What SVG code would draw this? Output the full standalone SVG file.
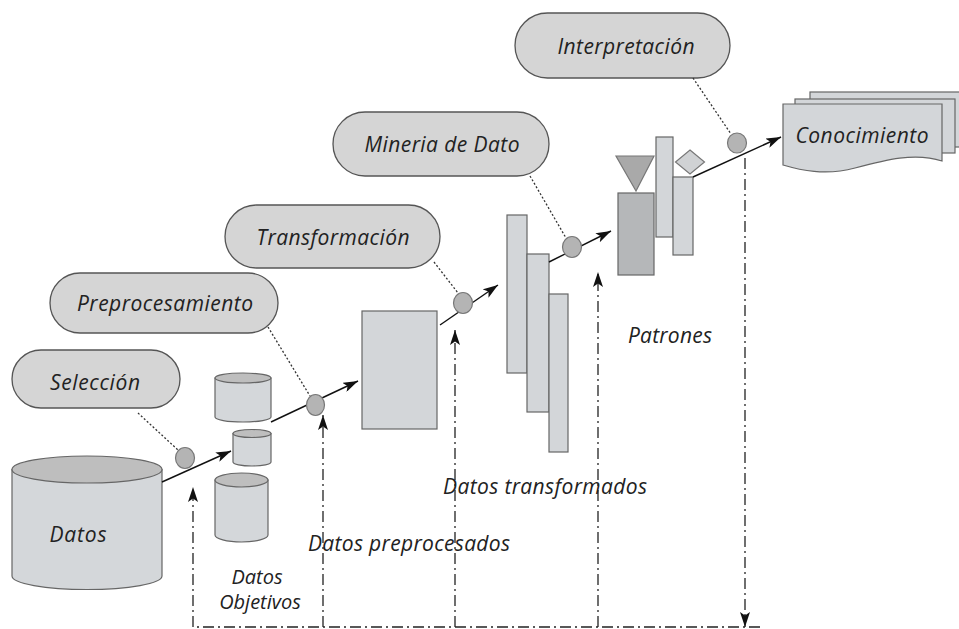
<svg xmlns="http://www.w3.org/2000/svg" width="959" height="629" viewBox="0 0 959 629">
  <defs>
    <style>
      .pill { fill: #d5d5d5; stroke: #555; stroke-width: 1.3; }
      .body { fill: #d4d7da; stroke: #666; stroke-width: 1.2; }
      .cap { fill: #bebebe; stroke: #666; stroke-width: 1.2; }
      .box { fill: #d3d6d9; stroke: #666; stroke-width: 1.2; }
      .dark { fill: #b5b7b9; stroke: #666; stroke-width: 1.2; }
      .ball { fill: #b4b4b4; stroke: #777; stroke-width: 1.2; }
      .lbl { font-family: "Open Sans", "Liberation Sans", sans-serif; font-style: italic; font-size: 21px; fill: #222; }
      .small { font-size: 20px; }
      .flow { stroke: #111; stroke-width: 1.4; fill: none; marker-end: url(#head); }
      .dot { stroke: #333; stroke-width: 1.3; stroke-dasharray: 2 2; fill: none; }
      .dd { stroke: #222; stroke-width: 1.3; stroke-dasharray: 11 4 2 4; fill: none; }
      .ddarrow { marker-end: url(#head); }
    </style>
    <marker id="head" viewBox="0 0 15 10" refX="15" refY="5" markerWidth="15" markerHeight="10" markerUnits="userSpaceOnUse" orient="auto">
      <path d="M0,0 L15,5 L0,10 L3.5,5 Z" fill="#111"/>
    </marker>
  </defs>

  <rect width="959" height="629" fill="#ffffff"/>

  <!-- process steps -->
  <g id="seleccion">
    <rect class="pill" x="12" y="350" width="168" height="58" rx="29"/>
    <text class="lbl" x="95" y="390" text-anchor="middle" textLength="90" lengthAdjust="spacing">Selección</text>
  </g>
  <g id="preprocesamiento">
    <rect class="pill" x="50" y="273" width="228" height="60" rx="30"/>
    <text class="lbl" x="165" y="311" text-anchor="middle" textLength="176" lengthAdjust="spacing">Preprocesamiento</text>
  </g>
  <g id="transformacion">
    <rect class="pill" x="225" y="205" width="215" height="63" rx="31.5"/>
    <text class="lbl" x="333" y="245" text-anchor="middle" textLength="153" lengthAdjust="spacing">Transformación</text>
  </g>
  <g id="mineria">
    <rect class="pill" x="333" y="112" width="216" height="64" rx="32"/>
    <text class="lbl" x="442" y="152" text-anchor="middle" textLength="155" lengthAdjust="spacing">Mineria de Dato</text>
  </g>
  <g id="interpretacion">
    <rect class="pill" x="515" y="13" width="215" height="65" rx="32.5"/>
    <text class="lbl" x="626" y="54" text-anchor="middle" textLength="137" lengthAdjust="spacing">Interpretación</text>
  </g>

  <!-- data stages -->
  <g id="datos">
    <path class="body" d="M12,469.5 V576 A75,13.5 0 0 0 162,576 V469.5 Z"/>
    <ellipse class="cap" cx="87" cy="469.5" rx="75" ry="13.5"/>
    <text class="lbl" x="78" y="542" text-anchor="middle" textLength="57" lengthAdjust="spacing">Datos</text>
  </g>

  <g id="datos-objetivos">
    <path class="body" d="M215,378 V417 A28,5 0 0 0 271,417 V378 Z"/>
    <ellipse class="cap" cx="243" cy="378" rx="28" ry="5"/>
    <path class="body" d="M233,433.5 V462 A19,4 0 0 0 271,462 V433.5 Z"/>
    <ellipse class="cap" cx="252" cy="433.5" rx="19" ry="4"/>
    <path class="body" d="M215,480 V535 A26.5,7 0 0 0 268,535 V480 Z"/>
    <ellipse class="cap" cx="241.5" cy="480" rx="26.5" ry="7"/>
    <text class="lbl small" text-anchor="middle"><tspan x="257" y="584">Datos</tspan><tspan x="260" y="609">Objetivos</tspan></text>
  </g>

  <g id="datos-preprocesados">
    <rect class="box" x="362" y="311" width="75" height="118"/>
    <text class="lbl" x="409" y="551" text-anchor="middle" textLength="202" lengthAdjust="spacing">Datos preprocesados</text>
  </g>

  <g id="datos-transformados">
    <rect class="box" x="507" y="215" width="20" height="158"/>
    <rect class="box" x="527" y="254" width="22" height="158"/>
    <rect class="box" x="549" y="294" width="19" height="158"/>
    <text class="lbl" x="545" y="494" text-anchor="middle" textLength="204" lengthAdjust="spacing">Datos transformados</text>
  </g>

  <g id="patrones">
    <polygon points="616,156 654,156 636,191" fill="#a9a9a9" stroke="#777" stroke-width="1.2"/>
    <rect class="dark" x="618" y="193" width="36" height="82"/>
    <rect class="box" x="656" y="137" width="17" height="100"/>
    <rect class="box" x="673" y="177" width="20" height="78"/>
    <polygon points="690,150 704.5,162 690,174 675.5,162" fill="#d0d2d4" stroke="#777" stroke-width="1.2"/>
    <text class="lbl" x="670" y="343" text-anchor="middle" textLength="84" lengthAdjust="spacing">Patrones</text>
  </g>

  <g id="conocimiento">
    <rect class="box" x="810" y="92" width="165" height="55"/>
    <rect class="box" x="795" y="99" width="160" height="54"/>
    <path class="box" d="M783,104 H942 V161 C915,152 885,160 855,168 C825,176 800,170 783,165 Z"/>
    <text class="lbl" x="862" y="143" text-anchor="middle" textLength="133" lengthAdjust="spacing">Conocimiento</text>
  </g>

  <!-- connectors -->
  <g id="connectors">
    <!-- step links -->
    <line class="dot" x1="138" y1="413" x2="178" y2="450"/>
    <line class="dot" x1="268" y1="327" x2="310" y2="396"/>
    <line class="dot" x1="434" y1="262" x2="458" y2="293"/>
    <line class="dot" x1="530" y1="176" x2="566" y2="238"/>
    <line class="dot" x1="693" y1="78" x2="731" y2="134"/>

    <!-- data flow -->
    <line class="flow" x1="162" y1="482" x2="231" y2="451"/>
    <line class="flow" x1="271" y1="422" x2="358" y2="381"/>
    <line class="flow" x1="440" y1="325" x2="498" y2="285"/>
    <line class="flow" x1="549" y1="262" x2="611" y2="231"/>
    <line class="flow" x1="693" y1="177" x2="781" y2="137"/>

    <!-- step markers -->
    <ellipse class="ball" cx="185" cy="458" rx="9.5" ry="10.5"/>
    <ellipse class="ball" cx="315.5" cy="405" rx="9" ry="10.5"/>
    <ellipse class="ball" cx="463" cy="303" rx="9.5" ry="10.5"/>
    <ellipse class="ball" cx="572" cy="247" rx="9.5" ry="10.5"/>
    <ellipse class="ball" cx="737" cy="143" rx="9.5" ry="10"/>

    <!-- feedback loop -->
    <line class="dd ddarrow" x1="745" y1="158" x2="745" y2="627"/>
    <line class="dd" x1="760" y1="627" x2="193" y2="627"/>
    <line class="dd ddarrow" x1="193" y1="627" x2="193" y2="487"/>
    <line class="dd ddarrow" x1="323" y1="627" x2="323" y2="415"/>
    <line class="dd ddarrow" x1="455" y1="627" x2="455" y2="330"/>
    <line class="dd ddarrow" x1="598" y1="627" x2="598" y2="272"/>
  </g>
</svg>
